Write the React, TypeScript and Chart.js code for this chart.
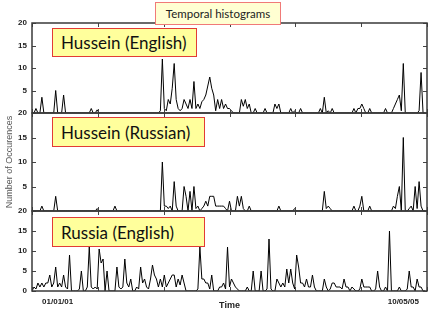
import React, { useEffect, useRef } from 'react';
import { Chart, registerables } from 'chart.js';

Chart.register(...registerables);

// Time bins (index along the time axis), occurrences per bin
const husseinEnglish = [
  0, 0, 1, 0, 0, 3.5, 0, 0, 0, 0, 0, 0, 5, 0, 0, 0, 4, 0, 0, 0,
  0, 0, 0, 0, 0, 0, 0, 0, 0, 0, 1, 0, 0, 0.7, 0, 0, 0, 0, 0, 0,
  0, 0, 0, 0, 0, 0, 0, 0, 0, 0, 0, 0, 0, 0, 0, 0, 0, 0, 0, 0,
  0, 0, 0, 0, 0, 0.5, 12, 1, 0.5, 3, 2, 5.5, 11, 3, 1, 0.5, 1, 3, 2, 1,
  3, 1, 7, 1, 2, 1, 2.5, 3, 4, 6, 8, 5.5, 4, 0.5, 3, 1, 3, 1, 2, 1,
  1, 0.5, 0, 0, 0, 0, 3, 1.5, 3, 1, 2, 0, 0, 1, 0, 0, 0, 0, 1, 0,
  0, 0, 0, 2, 1, 2, 0, 0, 0, 0, 0, 1, 0, 0.5, 0, 0, 1, 0, 0, 0,
  0, 0, 0, 0, 0, 0, 1, 0, 3.5, 0, 0.5, 0, 1, 0, 0, 0, 0, 0, 0, 0,
  0, 0, 0, 1, 0, 1, 1, 2, 1, 0, 0, 1, 0, 0, 0, 0, 0, 0, 0, 1,
  0, 0, 0, 1, 2, 3, 4, 0.5, 11, 0, 0, 0, 0, 0, 0, 0, 0.5, 9, 0, 0,
];

const husseinRussian = [
  0, 0, 0, 0, 0, 1, 0, 0, 0, 0, 0, 0, 3, 0, 0, 0, 0, 0, 0, 0,
  0, 0, 0, 0, 0, 0, 0, 0, 0, 0, 0, 0, 0, 0.5, 0, 0, 0, 0, 0, 0,
  0, 0, 1, 0, 0, 0, 0, 0, 0, 0, 0, 0, 0, 0, 0, 0, 0, 0, 0, 0,
  0, 0, 0, 0, 0, 0, 10, 1, 1, 0.5, 1, 0, 6, 1, 0, 0, 0, 5, 3, 0,
  4, 0, 5, 0.5, 1, 0, 0.5, 1, 2, 1, 3, 3, 3, 1, 1, 1, 1, 1, 0.5, 0,
  2, 0, 0, 0, 3, 1, 3, 0.5, 0, 0, 1, 0, 0, 0, 0, 0, 0, 0, 0, 0,
  0, 0, 0, 0, 0, 1, 0, 0, 0, 0, 0, 0, 0, 0.5, 0, 0, 0, 0, 0, 0,
  0, 0, 0, 0, 0, 0, 0, 0, 4, 0.5, 1, 0.5, 0, 0, 0, 0, 0, 0, 0, 0,
  0, 0, 0, 1, 0, 0, 1, 3, 0, 0, 0, 1, 0, 0, 0, 0, 0, 0, 0, 0,
  0, 0, 0, 1, 0.5, 3, 5, 0, 15, 0, 0, 0.5, 1, 0, 5, 0.5, 6, 1, 0, 0,
];

const russiaEnglish = [
  0, 1, 0.5, 2, 1, 2, 1, 2, 2, 4, 1, 2, 6, 1, 2, 1, 4, 1, 0.5, 9,
  0, 0, 0, 0, 0.5, 5, 0, 0, 1, 11, 1, 0.5, 1, 0.5, 10.5, 7, 8, 0, 5, 0,
  0, 0, 0, 6, 1, 0.5, 1, 8, 2, 1, 3, 0, 0, 1, 0.5, 6, 2, 3, 1, 0.5,
  3, 6.5, 4, 3, 1, 3, 1, 4, 1, 2, 3, 4, 4, 1, 3, 1.5, 4, 2, 0, 0,
  0, 0, 0, 0, 0.5, 11, 3, 3, 2, 2, 0.5, 4, 0, 0, 0, 1, 1, 2, 0.5, 11,
  1, 3, 2, 1, 0.5, 0, 0, 0, 0, 1, 0, 0, 5, 0, 0, 0, 5, 0, 0, 0.5,
  13, 0.5, 0, 0, 3, 2, 1, 2, 1, 5.5, 2, 5.5, 2, 0.5, 9, 6, 2, 2, 1, 3,
  1, 1, 4, 1, 0, 0, 0, 0, 3, 1, 0, 0.5, 2, 2, 1, 1, 1, 0.5, 3, 1,
  1, 0, 1, 0.5, 0, 0, 0.5, 3, 1, 1, 1, 1, 0, 0, 0.5, 5, 1, 0, 0, 1,
  0, 15, 0, 0, 0, 0, 1, 0, 0, 0, 0.5, 5, 1, 1, 0, 3, 1, 1, 0, 0,
];

const panelTitles = ['Hussein (English)', 'Hussein (Russian)', 'Russia (English)'];
const chartTitle = 'Temporal histograms';
const yAxisTitle = 'Number of Occurences';
const xAxisTitle = 'Time';
const yTickValues = [0, 5, 10, 15, 20];
const xMajorTicks = [0, 33.33, 66.67, 100, 133.33, 166.67, 200];
const xTickValues = [13, 188];
const xTickLabels = ['01/01/01', '10/05/05'];

const framePlugin = {
  id: 'frameTicks',
  afterDraw(chart: any) {
    const { ctx, chartArea: a, scales } = chart;
    const xs = scales.x;
    const ys = scales.y;
    ctx.save();
    ctx.strokeStyle = '#444';
    ctx.lineWidth = 1;
    ctx.beginPath();
    for (const v of yTickValues) {
      const py = Math.round(ys.getPixelForValue(v)) + 0.5;
      ctx.moveTo(a.left, py);
      ctx.lineTo(a.left + 4, py);
      ctx.moveTo(a.right, py);
      ctx.lineTo(a.right - 4, py);
    }
    for (const v of xMajorTicks) {
      const px = Math.round(xs.getPixelForValue(v)) + 0.5;
      ctx.moveTo(px, a.top);
      ctx.lineTo(px, a.top + 4);
      ctx.moveTo(px, a.bottom);
      ctx.lineTo(px, a.bottom - 4);
    }
    ctx.stroke();
    ctx.lineWidth = 1.5;
    ctx.strokeStyle = '#3a3a3a';
    ctx.strokeRect(a.left, a.top, a.right - a.left, a.bottom - a.top);
    ctx.restore();
  },
};

const tickFont = { family: 'Liberation Sans', size: 8, weight: 'bold' as const };

const zeroPadding = (s: any) => {
  s.paddingTop = 0;
  s.paddingBottom = 0;
  s.paddingLeft = 0;
  s.paddingRight = 0;
};

function makeConfig(series: number[], padTop: number, padBottom: number, showX: boolean, showYTitle: boolean, hideZero: boolean): any {
  return {
    type: 'line',
    data: {
      datasets: [
        {
          data: series.map((v, i) => ({ x: i, y: v })),
          borderColor: '#000',
          borderWidth: 1,
          pointRadius: 0,
          tension: 0,
          fill: false,
        },
      ],
    },
    options: {
      responsive: false,
      animation: false,
      layout: { padding: { top: padTop, bottom: padBottom, left: 0, right: 5 } },
      plugins: { legend: { display: false }, tooltip: { enabled: false } },
      scales: {
        x: {
          type: 'linear',
          min: 0,
          max: 200,
          display: showX,
          grid: { display: false, drawTicks: false },
          border: { display: false },
          afterBuildTicks: (s: any) => {
            s.ticks = xTickValues.map((v) => ({ value: v }));
          },
          afterFit: (s: any) => {
            s.height = showX ? 20 : 0;
            zeroPadding(s);
          },
          ticks: {
            autoSkip: false,
            maxRotation: 0,
            padding: 6,
            color: '#222',
            font: tickFont,
            callback: (_v: any, idx: number) => xTickLabels[idx],
          },
          title: {
            display: true,
            text: xAxisTitle,
            color: '#222',
            font: { family: 'Liberation Sans', size: 9, weight: 'bold' },
            padding: { top: 0, bottom: 0.5 },
          },
        },
        y: {
          type: 'linear',
          min: 0,
          max: 20,
          grid: { display: false, drawTicks: false },
          border: { display: false },
          afterBuildTicks: (s: any) => {
            s.ticks = yTickValues.map((v) => ({ value: v }));
          },
          afterFit: (s: any) => {
            s.width = 32;
            zeroPadding(s);
          },
          ticks: {
            padding: 5,
            color: '#222',
            font: tickFont,
            callback: (v: any) => (hideZero && v === 0 ? '' : String(v)),
          },
          title: {
            display: showYTitle,
            text: yAxisTitle,
            color: '#555',
            font: { family: 'Liberation Sans', size: 9 },
            padding: { top: 4, bottom: 0 },
          },
        },
      },
    },
    plugins: [framePlugin],
  };
}

const labelBox = (left: number, top: number, width: number, height: number): React.CSSProperties => ({
  position: 'absolute',
  left,
  top,
  width,
  height,
  boxSizing: 'border-box',
  background: '#ffff9c',
  border: '1.5px solid #e23b35',
  fontFamily: 'Lato, "Noto Sans", sans-serif',
  fontSize: 17,
  color: '#111',
  display: 'flex',
  alignItems: 'center',
  paddingLeft: 8,
  whiteSpace: 'nowrap',
});

export default function App() {
  const r1 = useRef<HTMLCanvasElement>(null);
  const r2 = useRef<HTMLCanvasElement>(null);
  const r3 = useRef<HTMLCanvasElement>(null);

  useEffect(() => {
    const charts = [
      new Chart(r1.current!, makeConfig(husseinEnglish, 23, 4, false, false, true)),
      new Chart(r2.current!, makeConfig(husseinRussian, 5, 5, false, true, true)),
      new Chart(r3.current!, makeConfig(russiaEnglish, 6, 0, true, false, false)),
    ];
    return () => charts.forEach((c) => c.destroy());
  }, []);

  return (
    <div style={{ position: 'fixed', left: 0, top: 0, width: 432, height: 311, background: '#fff', overflow: 'hidden' }}>
      <canvas ref={r1} width={432} height={117} style={{ position: 'absolute', left: 0, top: 0 }} />
      <canvas ref={r2} width={432} height={108} style={{ position: 'absolute', left: 0, top: 108 }} />
      <canvas ref={r3} width={432} height={106} style={{ position: 'absolute', left: 0, top: 205 }} />
      <div
        style={{
          position: 'absolute',
          left: 155,
          top: 2,
          width: 126,
          height: 23,
          boxSizing: 'border-box',
          background: '#ffffd2',
          border: '1px solid #f07a78',
          fontFamily: 'Lato, "Noto Sans", sans-serif',
          fontSize: 11.5,
          color: '#222',
          display: 'flex',
          alignItems: 'center',
          justifyContent: 'center',
          whiteSpace: 'nowrap',
        }}
      >
        {chartTitle}
      </div>
      <div style={labelBox(52, 28, 145, 29)}>{panelTitles[0]}</div>
      <div style={labelBox(52, 117, 153, 30)}>{panelTitles[1]}</div>
      <div style={labelBox(52, 217, 153, 30)}>{panelTitles[2]}</div>
    </div>
  );
}
